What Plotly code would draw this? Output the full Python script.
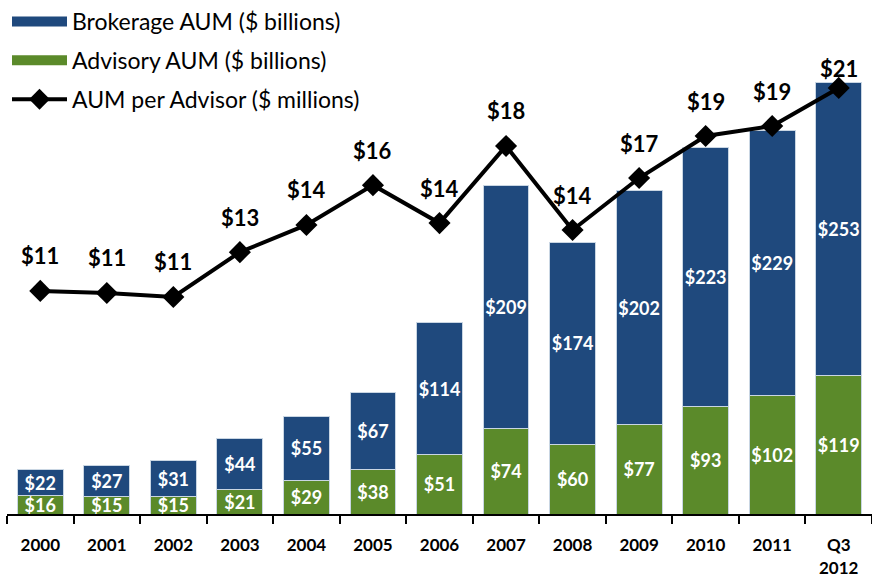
import plotly.graph_objects as go

categories = ["2000", "2001", "2002", "2003", "2004", "2005", "2006", "2007", "2008", "2009", "2010", "2011", "Q3<br>2012"]
advisory = [16, 15, 15, 21, 29, 38, 51, 74, 60, 77, 93, 102, 119]
brokerage = [22, 27, 31, 44, 55, 67, 114, 209, 174, 202, 223, 229, 253]
aum_per_advisor = [10.99, 10.89, 10.69, 12.9, 14.24, 16.2, 14.33, 18.13, 13.99, 16.55, 18.62, 19.11, 20.99]
aum_labels = ["$11", "$11", "$11", "$13", "$14", "$16", "$14", "$18", "$14", "$17", "$19", "$19", "$21"]

BLUE = "#1F497D"
GREEN = "#5B8A2A"
FONT = "Lato, 'Liberation Sans', sans-serif"

xpos = list(range(len(categories)))

fig = go.Figure()
fig.add_trace(go.Bar(
    x=xpos, y=advisory, name="Advisory AUM ($ billions)",
    marker=dict(color=GREEN, line=dict(color="#c9d6e3", width=1)),
    text=[f"<b>${v}</b>" for v in advisory], textposition="inside", insidetextanchor="middle",
    textangle=0, textfont=dict(color="white", size=18, family=FONT),
    showlegend=False,
))
fig.add_trace(go.Bar(
    x=xpos, y=brokerage, name="Brokerage AUM ($ billions)",
    marker=dict(color=BLUE, line=dict(color="#c9d6e3", width=1)),
    text=[f"<b>${v}</b>" for v in brokerage], textposition="inside", insidetextanchor="middle",
    textangle=0, textfont=dict(color="white", size=18, family=FONT),
    showlegend=False,
))
fig.add_trace(go.Scatter(
    x=xpos, y=aum_per_advisor, name="AUM per Advisor ($ millions)", yaxis="y2",
    mode="lines+markers", line=dict(color="black", width=4),
    marker=dict(symbol="diamond", size=17, color="black"),
    legendrank=3, legendgroup="c", cliponaxis=False,
))
# legend-only entries drawn as thick swatches
fig.add_trace(go.Scatter(x=[None], y=[None], mode="lines", name="Brokerage AUM ($ billions)",
                         line=dict(color=BLUE, width=18), legendrank=1, legendgroup="a"))
fig.add_trace(go.Scatter(x=[None], y=[None], mode="lines", name="Advisory AUM ($ billions)",
                         line=dict(color=GREEN, width=18), legendrank=2, legendgroup="b"))

shifts = [35] * len(categories)
shifts[-1] = 19
for c, v, t, s in zip(xpos, aum_per_advisor, aum_labels, shifts):
    fig.add_annotation(x=c, y=v, xref="x", yref="y2", text=f"<b>{t}</b>", showarrow=False, yshift=s,
                       font=dict(size=22, color="black", family=FONT))

PLOT_H = 454
fig.update_layout(
    width=872, height=579,
    margin=dict(l=7, r=0, t=60, b=65, autoexpand=False),
    paper_bgcolor="white", plot_bgcolor="white",
    barmode="stack", bargap=0.31,
    font=dict(family=FONT, color="black"),
    uniformtext=dict(minsize=18, mode="show"),
    showlegend=True,
    legend=dict(x=0.0, y=1 + 60 / PLOT_H, xanchor="left", yanchor="top",
                font=dict(size=23, family=FONT, color="black"), tracegroupgap=6,
                bgcolor="rgba(0,0,0,0)", itemwidth=55),
    xaxis=dict(range=[-0.5, len(categories) - 0.5], showline=True, linecolor="black", linewidth=2,
               tickmode="array", tickvals=xpos, ticktext=[f"<b>{c}</b>" for c in categories],
               ticks="", tickangle=0, showgrid=False, zeroline=False, ticklabelstandoff=15,
               tickfont=dict(size=17, family=FONT, color="black"),
               minor=dict(ticks="outside", tick0=-0.5, dtick=1, ticklen=8, tickwidth=2,
                          tickcolor="black", showgrid=False)),
    yaxis=dict(range=[0, PLOT_H / 1.16], visible=False, showgrid=False),
    yaxis2=dict(range=[0, PLOT_H / 20.3], overlaying="y", visible=False, showgrid=False),
)

fig.write_html("out.html", config={"displayModeBar": False},
               post_script="document.body.style.margin='0';")
